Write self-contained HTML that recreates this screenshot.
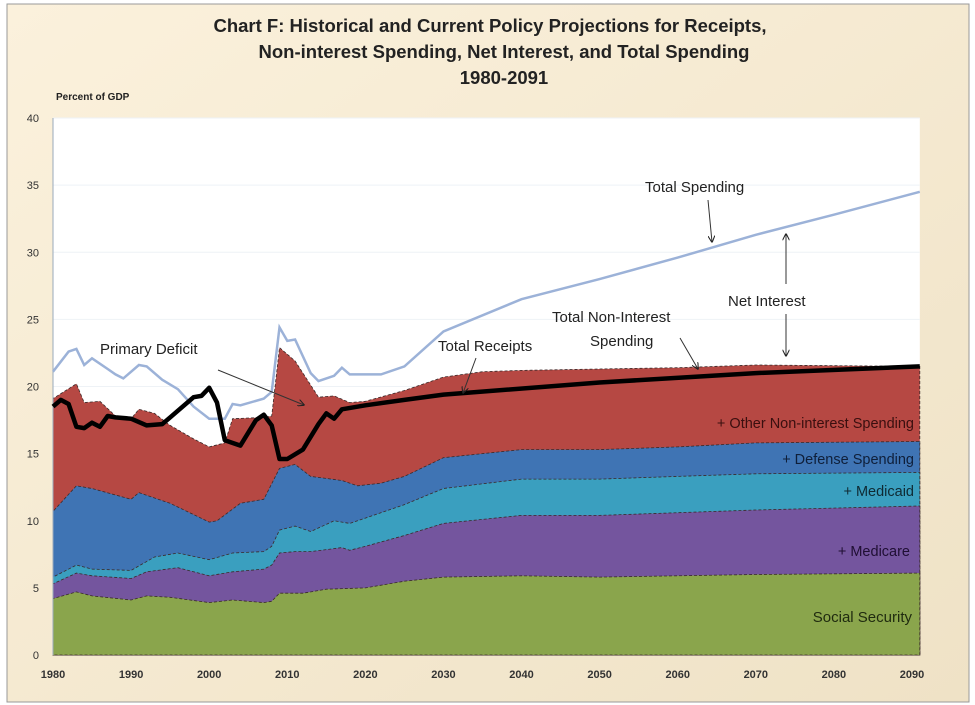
<!DOCTYPE html>
<html><head><meta charset="utf-8"><style>
html,body{margin:0;padding:0;background:#fff;}
#wrap{position:relative;width:975px;height:705px;overflow:hidden;}
svg text{font-family:"Liberation Sans",sans-serif;}
</style></head><body>
<div id="wrap">
<svg id="chart" width="975" height="705" viewBox="0 0 975 705">
<defs><linearGradient id="bg" x1="0" y1="0" x2="1" y2="1"><stop offset="0" stop-color="#fbf1dc"/><stop offset="1" stop-color="#efe2c6"/></linearGradient>
<marker id="ah" viewBox="0 0 10 10" refX="9" refY="5" markerWidth="7" markerHeight="7" orient="auto-start-reverse"><path d="M0,0 L10,5 L0,10" fill="none" stroke="#222" stroke-width="1.5"/></marker></defs>
<rect x="0" y="0" width="975" height="705" fill="#fff"/>
<rect x="7" y="4" width="962" height="698" fill="url(#bg)" stroke="#999" stroke-width="1"/>
<text x="490" y="32" text-anchor="middle" font-size="18.5" font-weight="bold" fill="#222">Chart F:  Historical and Current Policy Projections for Receipts,</text>
<text x="504" y="58" text-anchor="middle" font-size="18.5" font-weight="bold" fill="#222">Non-interest Spending, Net Interest, and Total Spending</text>
<text x="504" y="84" text-anchor="middle" font-size="18.5" font-weight="bold" fill="#222">1980-2091</text>
<text x="56" y="100" font-size="10" font-weight="bold" fill="#222">Percent of GDP</text>
<g id="plot"></g>
</svg>
</div>
<script>
const yTicks=[0,5,10,15,20,25,30,35,40];
const xTicks=[1980,1990,2000,2010,2020,2030,2040,2050,2060,2070,2080,2090];
const ssYears=[1980,1983,1985,1990,1992,1995,2000,2003,2007,2008,2009,2012,2015,2020,2025,2030,2040,2050,2060,2070,2091];
const ssVals=[4.2,4.7,4.4,4.1,4.4,4.3,3.9,4.1,3.9,4.0,4.6,4.6,4.9,5.0,5.5,5.8,5.9,5.8,5.9,6.0,6.1];
const mcYears=[1980,1983,1985,1990,1992,1996,2000,2003,2007,2008,2009,2011,2013,2017,2018,2020,2025,2030,2040,2050,2060,2070,2091];
const mcVals=[5.3,6.1,5.9,5.7,6.2,6.5,5.9,6.2,6.4,6.7,7.6,7.7,7.7,8.0,7.8,8.1,8.9,9.8,10.4,10.4,10.6,10.8,11.1];
const mdYears=[1980,1983,1985,1990,1993,1996,2000,2003,2007,2008,2009,2011,2013,2016,2018,2020,2025,2030,2040,2050,2060,2070,2091];
const mdVals=[5.8,6.7,6.4,6.3,7.3,7.6,7.1,7.6,7.7,8.1,9.3,9.6,9.2,10.0,9.8,10.2,11.2,12.4,13.1,13.1,13.3,13.5,13.6];
const dfYears=[1980,1983,1985,1990,1991,1995,2000,2001,2004,2007,2009,2011,2013,2017,2019,2022,2025,2030,2040,2050,2060,2070,2091];
const dfVals=[10.7,12.6,12.4,11.6,12.1,11.3,9.9,10.0,11.3,11.6,13.9,14.2,13.3,13.0,12.6,12.8,13.3,14.7,15.3,15.3,15.5,15.8,15.9];
const niYears=[1980,1983,1984,1986,1988,1990,1991,1993,1995,1998,2000,2002,2003,2007,2008,2009,2010,2011,2014,2016,2018,2020,2025,2030,2035,2040,2050,2060,2070,2091];
const niVals=[19.1,20.2,18.8,18.9,17.8,17.6,18.3,18.0,17.1,16.1,15.5,15.8,17.6,17.7,17.8,22.9,22.4,21.9,19.2,19.3,18.8,18.9,19.7,20.7,21.1,21.2,21.3,21.4,21.6,21.5];
const rcYears=[1980,1981,1982,1983,1984,1985,1986,1987,1988,1990,1992,1994,1995,1998,1999,2000,2001,2002,2004,2006,2007,2008,2009,2010,2012,2014,2015,2016,2017,2020,2025,2030,2050,2070,2091];
const rcVals=[18.5,19.0,18.7,17.0,16.9,17.3,17.0,17.8,17.7,17.6,17.1,17.2,17.7,19.2,19.3,19.9,18.8,16.0,15.6,17.5,17.9,17.1,14.6,14.6,15.3,17.2,18.0,17.6,18.3,18.6,19.0,19.4,20.3,21.0,21.5];
const tsYears=[1980,1982,1983,1984,1985,1987,1988,1989,1991,1992,1994,1996,1998,2000,2002,2003,2004,2007,2008,2009,2010,2011,2013,2014,2016,2017,2018,2022,2025,2030,2040,2050,2060,2070,2080,2091];
const tsVals=[21.1,22.6,22.8,21.6,22.1,21.3,20.9,20.6,21.6,21.5,20.5,19.8,18.5,17.6,17.6,18.7,18.6,19.1,19.6,24.4,23.4,23.5,21.0,20.4,20.8,21.4,20.9,20.9,21.5,24.1,26.5,28.0,29.6,31.3,32.8,34.5];

const X0=53,X1=912,Y0=655,Y1=118;
const xs=y=>X0+(y-1980)*(X1-X0)/110;
const ys=v=>Y0-v*(Y0-Y1)/40;
const NS='http://www.w3.org/2000/svg';
const plot=document.getElementById('plot');
function mk(tag,attrs,parent){const e=document.createElementNS(NS,tag);for(const k in attrs)e.setAttribute(k,attrs[k]);(parent||plot).appendChild(e);return e;}
function pts(yrs,vals){return yrs.map((y,i)=>xs(y).toFixed(1)+','+ys(vals[i]).toFixed(1));}

const bg=mk('rect',{x:X0,y:Y1,width:xs(2091)-X0,height:Y0-Y1,fill:'#fff'});


yTicks.forEach(t=>{
  const g=mk('line',{x1:X0,x2:xs(2091),y1:ys(t),y2:ys(t),stroke:'#eef2f6','stroke-width':1});
  
  
  const tl=mk('text',{x:X0-14,y:ys(t)+4,'text-anchor':'end','font-size':11,fill:'#333'});
  tl.textContent=t;
  
  
});
xTicks.forEach(t=>{
  const tl=mk('text',{x:xs(t),y:Y0+23,'text-anchor':'middle','font-size':11,'font-weight':'bold',fill:'#333'});
  tl.textContent=t;
  
  
});

const layers=[
 ['other-noninterest-area',niYears,niVals,'#b64843'],
 ['defense-area',dfYears,dfVals,'#3f74b4'],
 ['medicaid-area',mdYears,mdVals,'#3a9fbf'],
 ['medicare-area',mcYears,mcVals,'#74559e'],
 ['social-security-area',ssYears,ssVals,'#8aa54c']
];
layers.forEach(([n,yr,v,c])=>{
  const p=pts(yr,v);
  const a=mk('polygon',{points:xs(1980)+','+Y0+' '+p.join(' ')+' '+xs(2091)+','+Y0,fill:c,stroke:'#3a2a2a','stroke-width':0.8,'stroke-dasharray':'3,2'});
  
  
});
const ax=mk('line',{x1:X0,x2:X0,y1:Y1,y2:Y0,stroke:'#9ab','stroke-width':1});



const ts=mk('polyline',{points:pts(tsYears,tsVals).join(' '),fill:'none',stroke:'#9cb2d8','stroke-width':2.5});


const rc=mk('polyline',{points:pts(rcYears,rcVals).join(' '),fill:'none',stroke:'#000','stroke-width':4.5,'stroke-linejoin':'round'});



function label(txt,x,y,size,name,anchor,col){const t=mk('text',{x:x,y:y,'font-size':size,'text-anchor':anchor||'start',fill:col||'#222'});t.textContent=txt;

return t;}
function arrow(x1,y1,x2,y2,name,both){const l=mk('line',{x1:x1,y1:y1,x2:x2,y2:y2,stroke:'#333','stroke-width':1,'marker-end':'url(#ah)'});if(both)l.setAttribute('marker-start','url(#ah)');

}
label('Total Spending',645,192,15,'total-spending-label');
arrow(708,200,712,242,'total-spending-arrow');
label('Net Interest',728,306,15,'net-interest-label');
arrow(786,284,786,234,'net-interest-arrow-up');
arrow(786,314,786,356,'net-interest-arrow-down');
label('Total Non-Interest',552,322,15,'total-noninterest-label-1');
label('Spending',590,346,15,'total-noninterest-label-2');
arrow(680,338,698,369,'total-noninterest-arrow');
label('Total Receipts',438,351,15,'total-receipts-label');
arrow(476,358,463,393,'total-receipts-arrow');
label('Primary Deficit',100,354,15,'primary-deficit-label');
arrow(218,370,304,405,'primary-deficit-arrow');
label('+ Other Non-interest Spending',914,428,14.5,'other-noninterest-label','end','#3a0f0f');
label('+ Defense Spending',914,464,14.5,'defense-label','end','#0f1f3a');
label('+ Medicaid',914,496,14.5,'medicaid-label','end','#0f2a33');
label('+  Medicare',910,556,14.5,'medicare-label','end','#1f0f33');
label('Social Security',912,622,15,'social-security-label','end','#1f2a0f');
</script>
</body></html>
